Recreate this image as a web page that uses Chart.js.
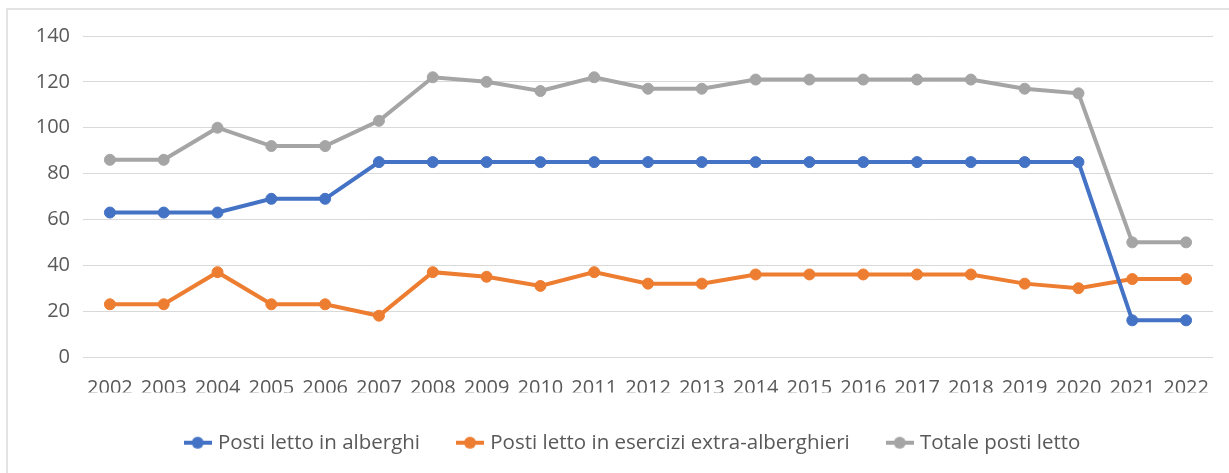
<!DOCTYPE html>
<html>
<head>
<meta charset="utf-8">
<script src="https://cdn.jsdelivr.net/npm/chart.js@4/dist/chart.umd.min.js"></script>
<style>
  html, body { margin: 0; padding: 0; background: #ffffff; }
  #wrap { position: relative; width: 1229px; height: 473px; }
</style>
</head>
<body>
<div id="wrap"><canvas id="chart" width="1229" height="473"></canvas></div>
<script>
// Anni di riferimento
const years = ['2002','2003','2004','2005','2006','2007','2008','2009','2010','2011','2012',
               '2013','2014','2015','2016','2017','2018','2019','2020','2021','2022'];

// Posti letto per tipologia di struttura
const alberghi      = [63, 63, 63, 69, 69, 85, 85, 85, 85, 85, 85, 85, 85, 85, 85, 85, 85, 85, 85, 16, 16];
const extraAlberghi = [23, 23, 37, 23, 23, 18, 37, 35, 31, 37, 32, 32, 36, 36, 36, 36, 36, 32, 30, 34, 34];
const totale        = [86, 86, 100, 92, 92, 103, 122, 120, 116, 122, 117, 117, 121, 121, 121, 121, 121, 117, 115, 50, 50];

// Asse verticale
const yTicks = [0, 20, 40, 60, 80, 100, 120, 140];

const seriesNames = ['Posti letto in alberghi', 'Posti letto in esercizi extra-alberghieri', 'Totale posti letto'];
const seriesColors = ['#4472C4', '#ED7D31', '#A5A5A5'];

const FONT = '"Open Sans", "DejaVu Sans", sans-serif';

// Simbolo di legenda: tratto di linea con marcatore circolare al centro
function legendSymbol(color) {
  const c = document.createElement('canvas');
  c.width = 28;
  c.height = 14;
  const g = c.getContext('2d');
  g.strokeStyle = color;
  g.lineWidth = 4;
  g.beginPath();
  g.moveTo(0, 7);
  g.lineTo(28, 7);
  g.stroke();
  g.fillStyle = color;
  g.beginPath();
  g.arc(14, 7, 6, 0, Math.PI * 2);
  g.fill();
  return c;
}

function makeSeries(label, data, color) {
  return {
    label: label,
    data: data,
    borderColor: color,
    backgroundColor: color,
    pointBackgroundColor: color,
    pointBorderColor: color,
    borderWidth: 4,
    pointRadius: 5.5,
    pointBorderWidth: 1,
    pointHoverRadius: 5.5,
    tension: 0,
    fill: false
  };
}

// Bordo sottile in alto e a sinistra
const frame = {
  id: 'frame',
  beforeDraw(chart) {
    const ctx = chart.ctx;
    ctx.save();
    ctx.strokeStyle = '#e3e3e3';
    ctx.lineWidth = 2;
    ctx.beginPath();
    ctx.moveTo(7, 473);
    ctx.lineTo(7, 9);
    ctx.lineTo(1229, 9);
    ctx.stroke();
    ctx.restore();
  }
};

// Centra la legenda sotto l'area del grafico
const legendCenter = {
  id: 'legendCenter',
  afterLayout(chart) {
    const lg = chart.legend;
    if (!lg) return;
    const area = chart.chartArea;
    const shift = (area.left + area.right) / 2 - (lg.left + lg.right) / 2 - 14;
    lg.left += shift;
    lg.right += shift;
  }
};

new Chart(document.getElementById('chart'), {
  type: 'line',
  data: {
    labels: years,
    datasets: [
      makeSeries(seriesNames[0], alberghi, seriesColors[0]),
      makeSeries(seriesNames[1], extraAlberghi, seriesColors[1]),
      makeSeries(seriesNames[2], totale, seriesColors[2])
    ]
  },
  options: {
    responsive: false,
    animation: false,
    layout: { padding: { left: 0, right: 16, top: 36, bottom: 10 } },
    plugins: {
      tooltip: { enabled: false },
      legend: {
        position: 'bottom',
        labels: {
          usePointStyle: true,
          pointStyleWidth: 20,
          boxHeight: 14,
          padding: 40,
          color: '#595959',
          font: { family: FONT, size: 20.5 },
          generateLabels(chart) {
            return chart.data.datasets.map((ds, i) => ({
              text: ds.label,
              fillStyle: ds.borderColor,
              strokeStyle: ds.borderColor,
              lineWidth: 0,
              pointStyle: legendSymbol(ds.borderColor),
              fontColor: '#595959',
              hidden: !chart.isDatasetVisible(i),
              datasetIndex: i
            }));
          }
        }
      }
    },
    scales: {
      x: {
        offset: true,
        grid: { display: false, drawTicks: false },
        border: { display: false },
        ticks: {
          color: '#595959',
          padding: 19,
          maxRotation: 0,
          autoSkip: false,
          font: { family: FONT, size: 20 }
        },
        afterFit(scale) { scale.height = 35.5; }
      },
      y: {
        min: 0,
        max: 140,
        afterBuildTicks(scale) { scale.ticks = yTicks.map(v => ({ value: v })); },
        grid: { color: '#d9d9d9', lineWidth: 1, drawTicks: false },
        border: { display: false },
        ticks: {
          color: '#595959',
          padding: 13,
          font: { family: FONT, size: 20 }
        },
        afterFit(scale) { scale.width = 83; }
      }
    }
  },
  plugins: [frame, legendCenter]
});
</script>
</body>
</html>
